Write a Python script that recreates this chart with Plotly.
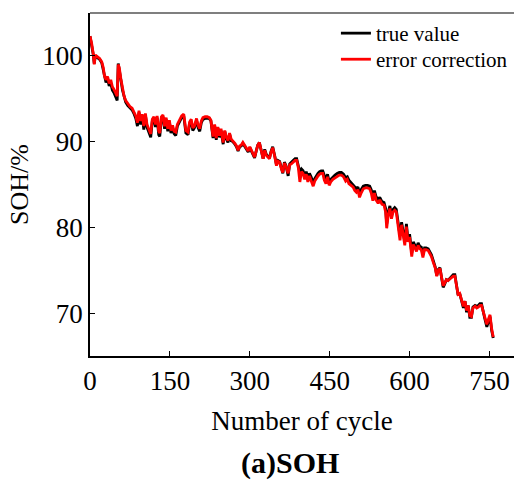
import plotly.graph_objects as go

cycles = [0, 3, 6, 8, 10, 14, 18, 22, 25, 27, 30, 33, 36, 39, 42, 45, 48, 51, 53, 55,
          58, 61, 64, 67, 71, 75, 79, 83, 86, 89, 92, 95, 98, 101, 104, 107, 111, 114, 117, 120,
          123, 126, 129, 131, 134, 137, 140, 143, 146, 149, 152, 155, 158, 161, 164, 168, 172, 176, 180, 184,
          187, 190, 193, 196, 200, 203, 206, 209, 212, 216, 220, 224, 227, 229, 231, 234, 237, 240, 243, 246,
          250, 253, 256, 259, 262, 265, 268, 272, 275, 278, 281, 284, 287, 290, 293, 297, 300, 303, 306, 309,
          312, 315, 318, 321, 325, 328, 331, 334, 337, 340, 343, 347, 350, 353, 356, 359, 362, 365, 368, 372,
          375, 378, 382, 385, 388, 391, 394, 397, 400, 403, 406, 409, 412, 415, 419, 422, 425, 428, 431, 434,
          437, 440, 443, 446, 449, 452, 456, 460, 464, 468, 472, 476, 480, 483, 486, 490, 494, 497, 500, 503,
          506, 509, 513, 517, 521, 525, 528, 531, 534, 537, 541, 544, 548, 552, 555, 557, 560, 563, 566, 569,
          572, 575, 578, 582, 585, 588, 591, 594, 597, 600, 604, 607, 610, 613, 616, 619, 622, 625, 628, 631,
          635, 638, 641, 644, 648, 651, 654, 657, 660, 663, 666, 669, 672, 676, 679, 682, 685, 688, 691, 694,
          698, 701, 704, 707, 710, 713, 716, 719, 723, 726, 729, 732, 735, 738, 741, 745, 748, 751, 754, 757]

true_value = [102.3, 101.4, 100.2, 99.1, 100.0, 99.8, 99.6, 99.2, 98.4, 97.5, 96.9, 97.3, 96.5, 96.8, 96.0, 95.7, 95.2, 94.8, 99.1, 98.5,
              97.2, 96.0, 95.1, 94.6, 94.2, 93.9, 93.7, 93.2, 92.7, 91.8, 93.4, 92.0, 93.0, 91.4, 93.1, 91.7, 90.9, 90.5, 92.4, 92.7,
              91.7, 92.8, 90.8, 90.6, 92.7, 92.9, 91.5, 92.6, 91.2, 92.3, 91.0, 91.6, 90.9, 90.7, 91.8, 92.4, 92.8, 93.0, 91.0, 90.8,
              92.1, 92.4, 91.3, 91.6, 92.5, 91.6, 91.2, 92.2, 92.6, 92.7, 92.7, 92.7, 92.4, 91.3, 90.4, 91.9, 90.2, 91.6, 90.5, 91.3,
              89.7, 91.2, 90.3, 89.9, 90.9, 90.1, 90.0, 89.7, 89.4, 88.9, 89.4, 89.5, 89.8, 89.5, 89.2, 88.8, 89.3, 88.9, 88.4, 88.1,
              88.9, 89.6, 89.9, 89.0, 88.0, 89.1, 88.5, 88.3, 88.1, 88.9, 89.4, 88.3, 87.3, 87.8, 87.7, 87.0, 86.3, 87.6, 87.2, 86.0,
              87.4, 87.6, 87.8, 88.0, 88.0, 87.3, 86.4, 86.8, 86.6, 86.0, 86.5, 85.7, 86.3, 85.9, 85.2, 85.7, 86.1, 86.3, 86.5, 86.6,
              86.6, 85.9, 85.5, 86.2, 85.3, 85.6, 85.9, 86.1, 86.3, 86.4, 86.4, 86.2, 85.8, 85.9, 85.5, 85.2, 85.0, 84.7, 84.5, 84.7,
              84.0, 84.4, 84.8, 84.9, 84.9, 84.8, 84.4, 83.6, 84.3, 83.6, 83.2, 83.5, 83.0, 82.9, 82.2, 80.4, 81.8, 82.5, 81.4, 82.1,
              82.3, 82.1, 80.9, 79.0, 80.6, 79.4, 78.3, 80.4, 78.6, 79.2, 77.0, 78.3, 77.9, 77.5, 78.2, 77.8, 77.7, 76.8, 77.6, 77.6,
              77.5, 77.2, 76.8, 76.2, 75.4, 74.4, 75.1, 75.3, 74.1, 73.0, 73.4, 73.9, 73.8, 74.1, 74.3, 74.5, 74.5, 73.3, 72.1, 72.3,
              71.4, 70.6, 71.4, 70.1, 70.9, 69.5, 69.5, 70.7, 70.9, 70.8, 70.9, 71.1, 71.1, 70.4, 69.4, 68.4, 69.1, 69.6, 68.0, 67.1]

error_correction = [102.3, 101.5, 100.3, 99.0, 100.1, 99.9, 99.7, 99.3, 98.6, 97.7, 97.2, 97.6, 96.8, 97.2, 96.4, 96.1, 95.6, 95.3, 99.0, 98.6,
                    97.3, 96.2, 95.3, 94.8, 94.4, 94.1, 93.9, 93.4, 93.0, 92.2, 93.6, 92.4, 93.2, 91.8, 93.3, 92.0, 91.3, 90.9, 92.6, 92.9,
                    92.0, 93.0, 91.2, 91.0, 92.9, 93.1, 91.8, 92.8, 91.5, 92.5, 91.3, 91.9, 91.2, 91.1, 92.0, 92.6, 93.0, 93.2, 91.3, 91.1,
                    92.3, 92.6, 91.6, 91.8, 92.7, 91.9, 91.5, 92.4, 92.8, 92.9, 92.9, 92.8, 92.5, 91.5, 90.6, 92.0, 90.4, 91.7, 90.7, 91.5,
                    89.9, 91.3, 90.5, 90.1, 91.0, 90.3, 90.1, 89.8, 89.5, 89.0, 89.5, 89.6, 89.9, 89.6, 89.3, 88.9, 89.4, 89.0, 88.5, 88.2,
                    88.9, 89.6, 89.9, 89.0, 88.0, 89.0, 88.4, 88.2, 88.0, 88.8, 89.3, 88.2, 87.2, 87.7, 87.6, 86.9, 86.4, 87.5, 87.1, 86.3,
                    87.3, 87.4, 87.6, 87.8, 87.8, 87.0, 85.3, 86.5, 86.3, 85.6, 86.2, 85.3, 86.0, 85.5, 84.8, 85.4, 85.8, 86.0, 86.2, 86.3,
                    86.3, 85.5, 85.1, 85.9, 84.9, 85.3, 85.6, 85.8, 86.0, 86.1, 86.1, 85.9, 85.4, 85.6, 85.1, 84.9, 84.7, 84.3, 84.1, 84.4,
                    83.5, 84.0, 84.5, 84.6, 84.6, 84.5, 84.0, 83.1, 84.0, 83.2, 82.8, 83.2, 82.7, 82.6, 81.8, 79.9, 81.5, 82.2, 81.0, 81.8,
                    82.0, 81.8, 80.5, 78.5, 80.3, 79.0, 77.9, 80.1, 78.3, 78.9, 76.6, 78.0, 77.6, 77.2, 77.9, 77.5, 77.4, 76.5, 77.4, 77.4,
                    77.3, 77.0, 76.6, 76.0, 75.3, 74.3, 75.0, 75.2, 74.2, 73.2, 73.5, 73.9, 73.8, 74.0, 74.2, 74.3, 74.3, 73.2, 72.2, 72.3,
                    71.5, 70.8, 71.4, 70.3, 70.9, 69.7, 69.6, 70.6, 70.8, 70.6, 70.7, 70.9, 70.9, 70.2, 69.4, 68.7, 69.3, 69.8, 68.2, 67.2]

x_ticks = [0, 150, 300, 450, 600, 750]
y_ticks = [70, 80, 90, 100]

FONT = "Liberation Serif, Times New Roman, serif"

fig = go.Figure()
fig.add_trace(go.Scatter(x=cycles, y=true_value, mode="lines", name="true value",
                         line=dict(color="black", width=2.8), legend="legend"))
fig.add_trace(go.Scatter(x=cycles, y=error_correction, mode="lines", name="error correction",
                         line=dict(color="#ff0000", width=2.8), legend="legend2"))

leg_common = dict(xanchor="left", yanchor="top", bgcolor="rgba(0,0,0,0)",
                  font=dict(family=FONT, size=21, color="black"))

fig.update_layout(
    width=514, height=480,
    margin=dict(l=90, r=0, t=13, b=124),
    paper_bgcolor="white", plot_bgcolor="white",
    font=dict(family=FONT, color="black"),
    showlegend=True,
    legend=dict(x=0.58, y=1.0, **leg_common),
    legend2=dict(x=0.58, y=0.924, **leg_common),
    xaxis=dict(range=[0, 796], tickvals=x_ticks, ticks="inside", ticklen=5, tickwidth=1.3,
               tickcolor="black", showline=True, linecolor="black", linewidth=1.5,
               showgrid=False, zeroline=False, tickfont=dict(family=FONT, size=27),
               automargin=False,
               title=dict(text="Number of cycle", font=dict(family=FONT, size=27), standoff=16)),
    yaxis=dict(range=[65, 105], tickvals=y_ticks, ticks="inside", ticklen=5, tickwidth=1.3,
               tickcolor="black", showline=True, linecolor="black", linewidth=1.5,
               showgrid=False, zeroline=False, tickfont=dict(family=FONT, size=27),
               automargin=False,
               title=dict(text="SOH/%", font=dict(family=FONT, size=26), standoff=6)),
    shapes=[dict(type="line", xref="paper", yref="paper", x0=0, x1=1, y0=1, y1=1,
                 line=dict(color="#555555", width=1.5))],
    annotations=[dict(text="<b>(a)SOH</b>", xref="paper", yref="paper", x=0.471, y=-0.312,
                      xanchor="center", yanchor="middle", showarrow=False,
                      font=dict(family=FONT, size=30, color="black"))],
)

fig.write_html("out.html", config={"displayModeBar": False},
               post_script="document.body.style.margin='0';")
